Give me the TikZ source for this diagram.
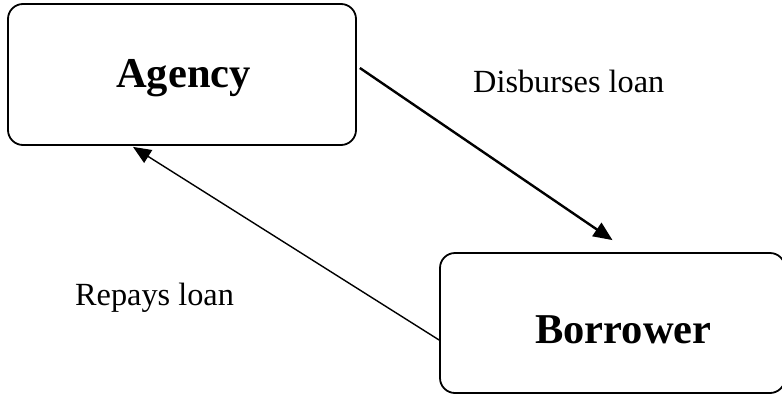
\documentclass[tikz,border=0pt]{standalone}
\usepackage{fontspec}
\setmainfont{Liberation Serif}
\usetikzlibrary{arrows.meta}
\begin{document}
\begin{tikzpicture}[x=1pt,y=-1pt,
  box/.style={draw,line width=1.8pt,rounded corners=15pt,inner sep=0pt},
  big/.style={font=\fontsize{42.5}{48}\selectfont\bfseries,inner sep=0pt,anchor=base},
  lbl/.style={font=\fontsize{32.3}{38}\selectfont,inner sep=0pt,anchor=base west},
  thick arrow/.style={line width=2.4pt,-{Triangle[length=19pt,width=16pt]}},
  thin arrow/.style={line width=1.4pt,-{Triangle[length=18pt,width=15pt]}}]
\useasboundingbox (0,0) rectangle (782,394);
\node[box,minimum width=348pt,minimum height=141pt] (agency) at (182,74.5) {};
\node[box,minimum width=345pt,minimum height=140pt] (borrower) at (612.5,323) {};
\node[big] (agencytext) at (183.5,87) {Agency};
\node[big] (borrowertext) at (623.5,343) {Borrower};
\node[lbl] (disb) at (473,92) {Disburses loan};
\node[lbl] (repay) at (75,305) {Repays loan};
\draw[thick arrow] ([shift={(3,-6.5)}]agency.east) -- ([shift={(0,-12)}]borrower.north);
\draw[thin arrow] ([shift={(0,17)}]borrower.west) -- ([shift={(-49,1)}]agency.south);
\end{tikzpicture}
\end{document}
